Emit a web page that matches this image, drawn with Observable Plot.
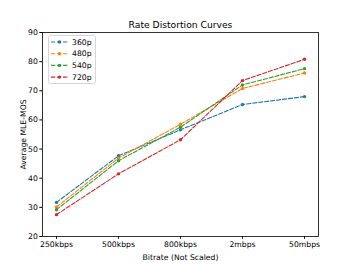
<!DOCTYPE html>
<html>
<head>
<meta charset="utf-8">
<script src="https://cdn.jsdelivr.net/npm/d3@7"></script>
<script src="https://cdn.jsdelivr.net/npm/@observablehq/plot@0.6"></script>
<style>
  html, body { margin: 0; padding: 0; background: white; }
  #wrap { position: relative; width: 354px; height: 266px; font-family: "DejaVu Sans", sans-serif; }
  #legend { position: absolute; left: 48px; top: 35px; }
</style>
</head>
<body>
<div id="wrap"></div>
<script>
const categories = ["250kbps", "500kbps", "800kbps", "2mbps", "50mbps"];
const seriesNames = ["360p", "480p", "540p", "720p"];
const seriesColors = ["#1f77b4", "#ff7f0e", "#2ca02c", "#d62728"];
const s360 = [31.7, 47.7, 56.6, 65.3, 68.0];
const s480 = [30.1, 46.9, 58.5, 70.8, 76.1];
const s540 = [29.2, 46.0, 57.5, 72.0, 77.6];
const s720 = [27.5, 41.5, 53.2, 73.5, 80.8];
const yTicks = [20, 30, 40, 50, 60, 70, 80, 90];
const title = "Rate Distortion Curves";
const xLabel = "Bitrate (Not Scaled)";
const yLabel = "Average MLE-MOS";

const allSeries = [s360, s480, s540, s720];
const data = [];
allSeries.forEach((vals, i) => {
  vals.forEach((v, j) => data.push({series: seriesNames[i], cat: categories[j], value: v}));
});

const chart = Plot.plot({
  width: 354,
  height: 266,
  marginLeft: 42,
  marginRight: 36,
  marginTop: 32,
  marginBottom: 30,
  style: {fontFamily: "DejaVu Sans", fontSize: "7.7px", color: "#000", background: "white"},
  x: {type: "point", domain: categories, padding: 0.2},
  y: {domain: [20, 90]},
  color: {domain: seriesNames, range: seriesColors},
  marks: [
    Plot.line(data, {x: "cat", y: "value", z: "series", stroke: "series", strokeWidth: 1.1, strokeDasharray: "4.2,1.8"}),
    Plot.dot(data, {x: "cat", y: "value", fill: "series", r: 1.7}),
    Plot.frame({stroke: "#000", strokeWidth: 0.8}),
    Plot.axisX({tickSize: 2.7, tickPadding: 2, label: xLabel, labelAnchor: "center", labelArrow: "none", labelOffset: 23, fontSize: 7.7}),
    Plot.axisY({ticks: yTicks, tickSize: 2.7, tickPadding: 2, label: yLabel, labelAnchor: "center", labelArrow: "none", labelOffset: 22, fontSize: 7.7}),
    Plot.text([title], {frameAnchor: "top", dy: -5, fontSize: 9.2, lineAnchor: "bottom"})
  ]
});
document.getElementById("wrap").appendChild(chart);

// legend
const lg = d3.select("#wrap").append("svg").attr("id", "legend").attr("width", 48).attr("height", 49);
lg.append("rect").attr("x", 0.5).attr("y", 0.5).attr("width", 47).attr("height", 48).attr("rx", 2)
  .attr("fill", "white").attr("fill-opacity", 0.8).attr("stroke", "#ccc").attr("stroke-width", 0.8);
seriesNames.forEach((name, i) => {
  const cy = 7 + i * 11.7;
  lg.append("line").attr("x1", 3).attr("x2", 20).attr("y1", cy).attr("y2", cy)
    .attr("stroke", seriesColors[i]).attr("stroke-width", 1.1).attr("stroke-dasharray", "4.2,1.8");
  lg.append("circle").attr("cx", 11.5).attr("cy", cy).attr("r", 1.7).attr("fill", seriesColors[i]);
  lg.append("text").attr("x", 24).attr("y", cy).attr("dy", "0.35em").attr("font-size", 7.7)
    .attr("font-family", "DejaVu Sans").text(name);
});
</script>
</body>
</html>
